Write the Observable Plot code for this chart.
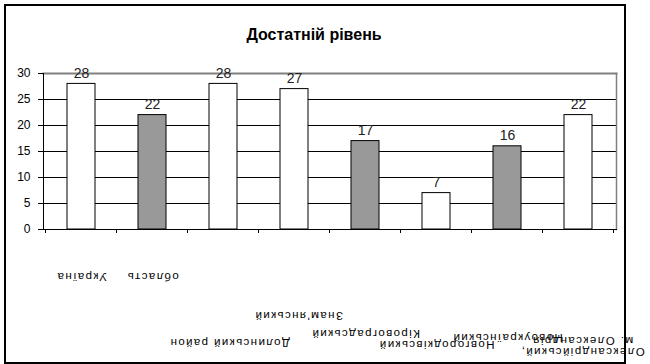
<!DOCTYPE html>
<html><head><meta charset="utf-8">
<script src="https://cdn.jsdelivr.net/npm/d3@7"></script>
<script src="https://cdn.jsdelivr.net/npm/@observablehq/plot@0.6"></script>
<style>body{margin:0;background:#fff;} #chart{width:650px;height:364px;} .catlabel text, text.catlabel{letter-spacing:1.4px;}</style>
</head><body><div id="chart"></div>
<script>
const title = "Достатній рівень";
const categories = ["Україна", "область", "Долинський район", "Знам'янський", "Кіровоградський", "Новгородківський", "Новоукраїнський", "Олександрійський,\nм. Олександрія"];
const values = [28, 22, 28, 27, 17, 7, 16, 22];
const highlighted = [false, true, false, false, true, false, true, false];
const yTicks = [0, 5, 10, 15, 20, 25, 30];

// layout: vertical offset (px) of each rotated category label below the axis
const labelDy = [43, 43, 109, 82, 100, 111, 104, 107];
// layout: horizontal nudge (px) of each rotated category label
const labelDx = [0, 0, 6, 4, 0, 0, 0, 4];

const data = categories.map((c, i) => ({cat: c, value: values[i], hl: highlighted[i]}));
const font = "Arial, 'Liberation Sans', sans-serif";

const marks = [
  Plot.gridY(yTicks.filter(t => t > 0 && t < 30), {stroke: "black", strokeOpacity: 1}),
  Plot.frame({anchor: "top", stroke: "#808080", strokeWidth: 2}),
  Plot.frame({anchor: "right", stroke: "#808080", strokeWidth: 1.5}),
  Plot.barY(data, {x: "cat", y: "value", fill: "hl", stroke: "black", strokeWidth: 1}),
  Plot.frame({anchor: "left", stroke: "black"}),
  Plot.frame({anchor: "bottom", stroke: "black"}),
  Plot.axisY({ticks: yTicks, tickSize: 5, tickPadding: 8, fontSize: 12, stroke: "black", fill: "black", label: null}),
  Plot.text(data, {x: "cat", y: "value", text: d => String(d.value), lineAnchor: "bottom", dy: -6, fontSize: 14, fill: "#222"}),
  Plot.text([title], {frameAnchor: "top", text: d => d, dx: -16, dy: -45, fontSize: 16, fontWeight: "bold", fill: "black"})
];
data.forEach((d, i) => {
  marks.push(Plot.text([d], {x: "cat", text: "cat", frameAnchor: "bottom", rotate: 180, dx: labelDx[i], dy: labelDy[i], fontSize: 11.5, fill: "black", lineHeight: 1.0, className: "catlabel"}));
});

const plot = Plot.plot({
  width: 650, height: 364,
  marginLeft: 43, marginRight: 34, marginTop: 73, marginBottom: 135,
  style: {fontFamily: font, background: "white", overflow: "visible"},
  x: {domain: categories, paddingInner: 0.6, paddingOuter: 0.3, axis: null},
  y: {domain: [0, 30]},
  color: {domain: [false, true], range: ["white", "#999999"]},
  marks
});
document.getElementById("chart").appendChild(plot);

// band boundary ticks on the category axis and outer chart border
const svg = d3.select(plot);
const xs = plot.scale("x");
const gap = (xs.step - xs.bandwidth) / 2;
const bounds = categories.map(c => xs.apply(c) - gap).concat([xs.apply(categories[categories.length - 1]) + xs.bandwidth + gap]);
svg.append("g").selectAll("line").data(bounds).join("line")
  .attr("x1", d => d).attr("x2", d => d).attr("y1", 229).attr("y2", 233).attr("stroke", "black");
svg.append("rect").attr("x", 5).attr("y", 5).attr("width", 620).attr("height", 358)
  .attr("fill", "none").attr("stroke", "black").attr("stroke-width", 2);
</script>
</body></html>
